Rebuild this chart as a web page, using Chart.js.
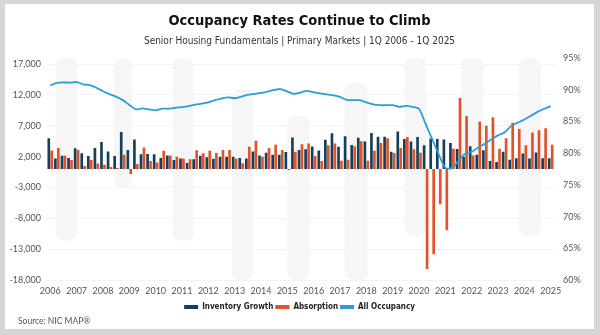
<!DOCTYPE html>
<html>
<head>
<meta charset="utf-8">
<script src="https://cdn.jsdelivr.net/npm/chart.js@4"></script>
<style>
  html, body { margin: 0; padding: 0; }
  body { width: 600px; height: 335px; background: #d6d6d6; position: relative; overflow: hidden; }
  #panel { position: absolute; left: 5px; top: 4px; width: 589px; height: 325px; background: #fff; }
  #wrap { position: absolute; left: 0; top: 0; width: 589px; height: 325px; }
  #source { position: absolute; left: 13px; top: 312px; font: 8.5px Lato, "Open Sans", sans-serif; color: #555; }
</style>
</head>
<body>
<div id="panel">
  <div id="wrap"><canvas id="occChart"></canvas></div>
  <div id="source">Source: NIC MAP®</div>
</div>
<script>
// quarterly series, 1Q 2006 .. 1Q 2025
const years = [2006, 2007, 2008, 2009, 2010, 2011, 2012, 2013, 2014, 2015,
               2016, 2017, 2018, 2019, 2020, 2021, 2022, 2023, 2024, 2025];

const inventoryGrowth = [
  5000, 1700, 2150, 1800, 3350, 2550, 2100, 3400, 4400, 2850,
  2100, 6000, 3100, 4800, 2400, 2450, 2400, 1800, 2200, 1450,
  1700, 1000, 1600, 2150, 1900, 1650, 2000, 2000, 2000, 1800,
  1700, 2850, 2200, 2650, 2300, 2300, 2750, 5100, 3100, 3200,
  3650, 3000, 4750, 5800, 3600, 5300, 3900, 5050, 4450, 5850,
  5250, 5250, 2800, 6100, 4850, 4450, 5200, 3850, 4950, 4850,
  4800, 4200, 3250, 2000, 3700, 2300, 3050, 1300, 1150, 2800,
  1500, 1750, 2500, 1700, 2700, 1750, 1750
];

const absorption = [
  3000, 3400, 2150, 1450, 3100, 500, 1450, 900, 700, 350,
  150, 2300, -800, 800, 3500, 1300, 1050, 2950, 2200, 2000,
  1700, 1600, 3050, 2550, 2950, 2600, 3100, 3100, 1650, 950,
  3600, 4600, 2000, 3400, 3950, 3100, -150, 2800, 4000, 4150,
  2100, 1300, 3850, 4150, 1350, 1500, 3700, 4500, 1350, 2950,
  4200, 5000, 2600, 3400, 5200, 3200, 2650, -16200, -13800, -5700,
  -9900, 3300, 11500, 8600, 2200, 7700, 7000, 8400, 3300, 5000,
  7500, 6500, 3850, 5900, 6300, 6600, 3950
];

const allOccupancy = [
  90.7, 91.05, 91.15, 91.1, 91.2, 90.85, 90.7, 90.3, 89.75, 89.3,
  88.9, 88.35, 87.6, 86.9, 87.05, 86.9, 86.75, 87.0, 87.0, 87.15,
  87.25, 87.4, 87.65, 87.8, 88.0, 88.35, 88.6, 88.8, 88.65, 88.9,
  89.2, 89.35, 89.5, 89.7, 89.95, 90.1, 89.7, 89.35, 89.55, 89.8,
  89.6, 89.4, 89.25, 89.1, 88.85, 88.4, 88.35, 88.35, 88.0, 87.7,
  87.55, 87.55, 87.55, 87.3, 87.45, 87.3, 87.0, 84.6, 82.2, 79.8,
  77.7, 77.65, 78.8, 79.9, 80.2, 80.9, 81.5, 82.2, 82.8, 83.3,
  84.3, 84.8, 85.3, 85.9, 86.5, 87.0, 87.4
];

const leftTicks = [-18000, -13000, -8000, -3000, 2000, 7000, 12000, 17000];

// faint background columns: quarter index range and left-axis extent
const bandFrom   = [0.8, 9.7, 18.6, 27.6, 36.0, 44.7, 53.8, 62.4, 71.2];
const bandTo     = [4.1, 12.4, 21.7, 30.8, 39.4, 48.2, 57.1, 65.8, 74.5];
const bandTop    = [18000, 18000, 18000, 13000, 8600, 14000, 18000, 18000, 18000];
const bandBottom = [-11600, -3000, -11600, -18000, -18000, -18000, -10800, 2000, -10800];

const quarters = [];
years.forEach(y => {
  for (let q = 1; q <= 4; q++) {
    if (y === 2025 && q > 1) break;
    quarters.push(q + 'Q ' + y);
  }
});

const tickFont = { family: 'Lato, "Open Sans", sans-serif', size: 9 };
const narrow = '"Liberation Sans Narrow", "DejaVu Sans Condensed", "Arial Narrow", sans-serif';

const bandsPlugin = {
  id: 'bands',
  beforeDatasetsDraw(chart) {
    const ctx = chart.ctx;
    const x = chart.scales.x;
    const y = chart.scales.y;
    ctx.save();
    ctx.fillStyle = '#f6f6f6';
    for (let i = 0; i < bandFrom.length; i++) {
      const x0 = x.getPixelForValue(bandFrom[i]);
      const x1 = x.getPixelForValue(bandTo[i]);
      const y0 = y.getPixelForValue(bandTop[i]);
      const y1 = y.getPixelForValue(bandBottom[i]);
      ctx.beginPath();
      ctx.roundRect(x0, y0, x1 - x0, y1 - y0, 8);
      ctx.fill();
    }
    ctx.restore();
  }
};

const data = {
  labels: quarters,
  datasets: [{
    type: 'bar',
    label: 'Inventory Growth',
    data: inventoryGrowth,
    backgroundColor: '#183f59',
    yAxisID: 'y',
    order: 1,
    barPercentage: 0.9,
    categoryPercentage: 0.9
  }, {
    type: 'bar',
    label: 'Absorption',
    data: absorption,
    backgroundColor: '#e0532a',
    yAxisID: 'y',
    order: 2,
    barPercentage: 0.9,
    categoryPercentage: 0.9
  }, {
    type: 'line',
    label: 'All Occupancy',
    data: allOccupancy,
    borderColor: '#2a9fd3',
    backgroundColor: '#2a9fd3',
    borderWidth: 1.8,
    pointRadius: 0,
    tension: 0.25,
    yAxisID: 'y1',
    order: 0
  }]
};

const config = {
  type: 'bar',
  data: data,
  plugins: [bandsPlugin],
  options: {
    responsive: true,
    maintainAspectRatio: false,
    animation: false,
    layout: { padding: { top: 8, left: 0, right: 0, bottom: 8 } },
    plugins: {
      title: {
        display: true,
        text: 'Occupancy Rates Continue to Climb',
        color: '#111',
        font: { family: narrow, size: 14.5, weight: 'bold' },
        padding: { top: 1, bottom: 4 }
      },
      subtitle: {
        display: true,
        text: 'Senior Housing Fundamentals | Primary Markets | 1Q 2006 - 1Q 2025',
        color: '#333',
        font: { family: narrow, size: 10 },
        padding: { top: 1, bottom: 10.5 }
      },
      legend: {
        position: 'bottom',
        labels: {
          boxWidth: 14,
          boxHeight: 4,
          padding: 2,
          color: '#222',
          font: { family: narrow, size: 8, weight: 'bold' },
          sort: (a, b) => a.datasetIndex - b.datasetIndex,
          generateLabels(chart) {
            const items = Chart.defaults.plugins.legend.labels.generateLabels(chart);
            items.forEach(it => { it.lineWidth = 0; });
            return items;
          }
        }
      },
      tooltip: { enabled: false }
    },
    scales: {
      x: {
        offset: true,
        grid: { display: false, drawTicks: false },
        border: { display: false },
        ticks: {
          autoSkip: false,
          maxRotation: 0,
          padding: 5,
          color: '#555',
          font: tickFont,
          callback: function (v, i) {
            const lab = quarters[i];
            return lab.startsWith('1Q') ? lab.slice(3) : '';
          }
        }
      },
      y: {
        position: 'left',
        min: -18000,
        max: 18000,
        afterBuildTicks: axis => { axis.ticks = leftTicks.map(v => ({ value: v })); },
        afterFit: axis => { axis.width = 42; },
        grid: { color: '#f3f3f3', drawTicks: false },
        border: { display: false },
        ticks: {
          padding: 6,
          color: '#555',
          font: tickFont,
          callback: v => v.toLocaleString('en-US')
        }
      },
      y1: {
        position: 'right',
        min: 60,
        max: 95,
        afterFit: axis => { axis.width = 40; },
        grid: { display: false, drawTicks: false },
        border: { display: false },
        ticks: {
          stepSize: 5,
          padding: 9,
          color: '#555',
          font: tickFont,
          callback: v => v + '%'
        }
      }
    }
  }
};

let ctx = document.getElementById('occChart').getContext('2d');
new Chart(ctx, config);
</script>
</body>
</html>
